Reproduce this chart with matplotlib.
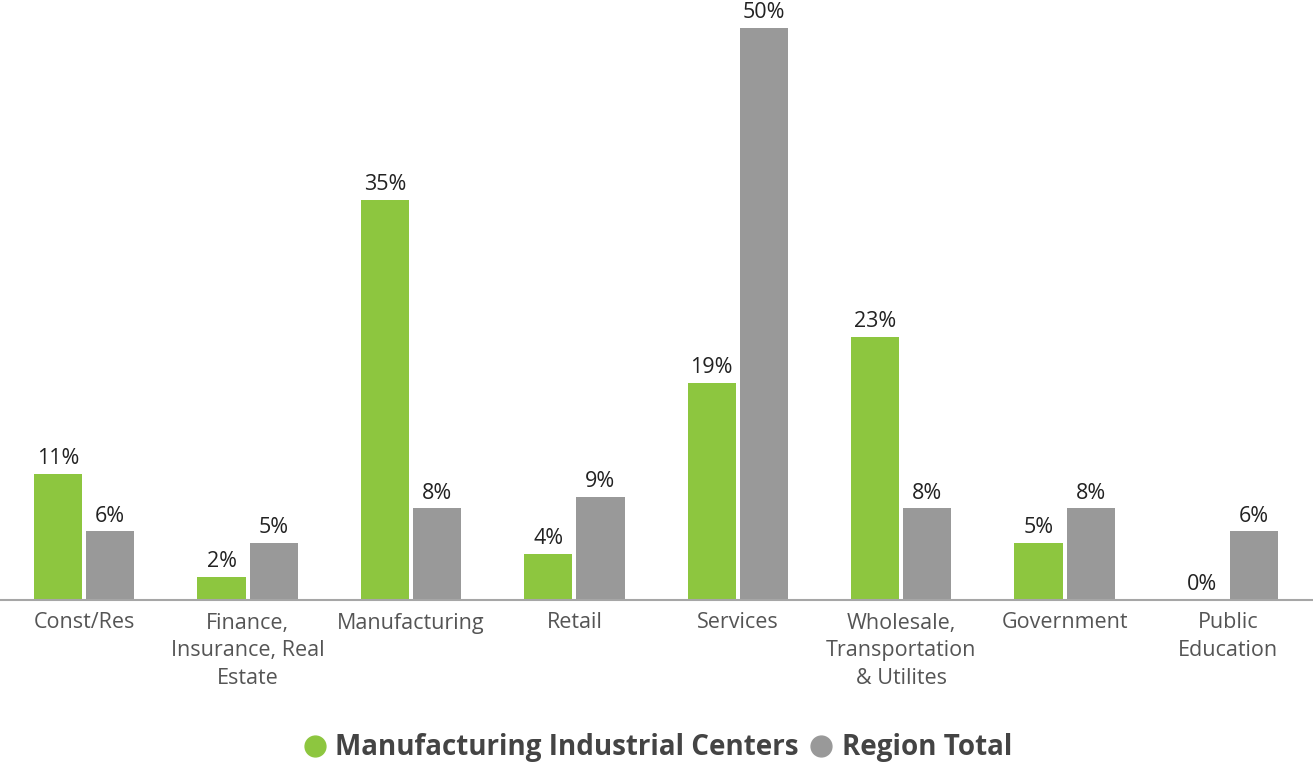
import matplotlib
matplotlib.use("Agg")
import matplotlib.pyplot as plt
from matplotlib.lines import Line2D
import numpy as np

categories = [
    "Const/Res",
    "Finance,\nInsurance, Real\nEstate",
    "Manufacturing",
    "Retail",
    "Services",
    "Wholesale,\nTransportation\n& Utilites",
    "Government",
    "Public\nEducation",
]
mic_share = [11, 2, 35, 4, 19, 23, 5, 0]
region_share = [6, 5, 8, 9, 50, 8, 8, 6]
series_names = ["Manufacturing Industrial Centers", "Region Total"]

GREEN = "#8DC63F"
GRAY = "#999999"
TEXT = "#555555"

plt.rcParams["font.family"] = ["Open Sans", "DejaVu Sans"]

fig = plt.figure(figsize=(13.13, 7.65), dpi=100)
ax = fig.add_axes([0.0, 165 / 765, 1.0, 600 / 765])

x = np.arange(len(categories))
w = 0.295
gap = 0.012
b1 = ax.bar(x - w / 2 - gap, mic_share, width=w, color=GREEN)
b2 = ax.bar(x + w / 2 + gap, region_share, width=w, color=GRAY)

for bars, vals in ((b1, mic_share), (b2, region_share)):
    for rect, v in zip(bars, vals):
        ax.annotate(f"{v}%", (rect.get_x() + rect.get_width() / 2, v),
                    xytext=(0, 3.5), textcoords="offset points",
                    ha="center", va="bottom", fontsize=15.5, color="#222222")

ax.set_xlim(-0.515, 7.52)
ax.set_ylim(0, 52.45)
ax.set_xticks(x)
ax.set_xticklabels(categories, fontsize=15.5, color=TEXT, linespacing=1.42)
ax.tick_params(axis="x", length=0, pad=9)
ax.set_yticks([])
for s in ("top", "right", "left"):
    ax.spines[s].set_visible(False)
ax.spines["bottom"].set_color("#A6A6A6")
ax.spines["bottom"].set_linewidth(1.5)

handles = [
    Line2D([], [], marker="o", linestyle="", markersize=15, color=GREEN),
    Line2D([], [], marker="o", linestyle="", markersize=15, color=GRAY),
]
leg = fig.legend(handles, series_names, loc="center", bbox_to_anchor=(0.5, 1 - 748 / 765),
                 ncol=2, frameon=False, handletextpad=0.25, columnspacing=0.3,
                 handlelength=1.0, prop={"size": 20, "weight": "bold"})
for t in leg.get_texts():
    t.set_color("#444444")

fig.savefig("out.png", dpi=100)
